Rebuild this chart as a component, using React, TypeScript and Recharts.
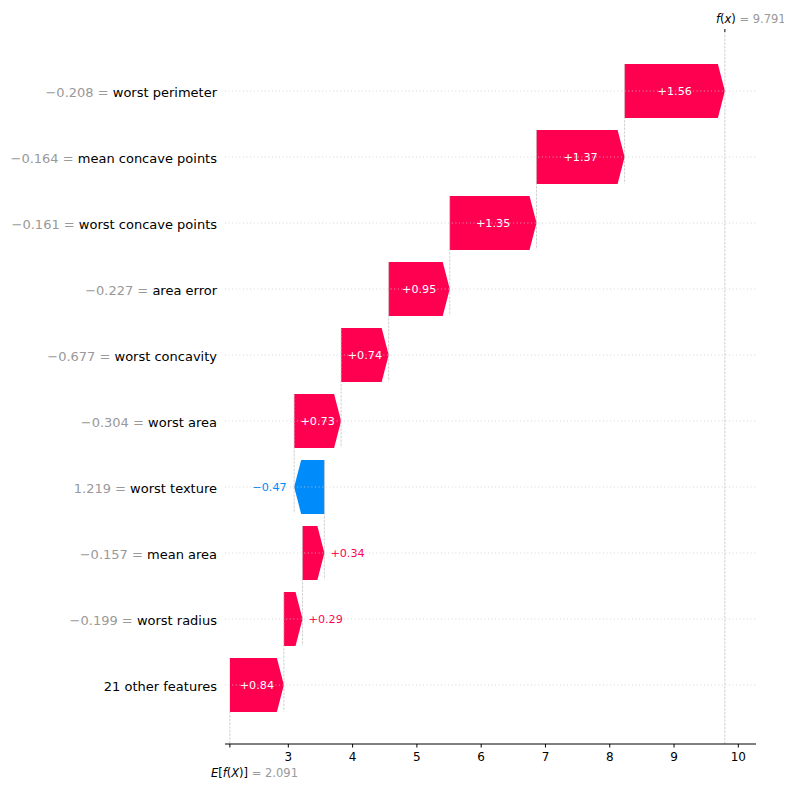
import React from 'react';
import { ComposedChart, Bar, XAxis, YAxis, ReferenceLine } from 'recharts';

// ---- data ----
const featureNames = [
  'worst perimeter',
  'mean concave points',
  'worst concave points',
  'area error',
  'worst concavity',
  'worst area',
  'worst texture',
  'mean area',
  'worst radius',
  '21 other features',
];
const featureValues: (string | null)[] = [
  '−0.208', '−0.164', '−0.161', '−0.227', '−0.677', '−0.304', '1.219', '−0.157', '−0.199', null,
];
const shapValues = [1.56, 1.37, 1.35, 0.95, 0.74, 0.73, -0.47, 0.34, 0.29, 0.84];
const baseValue = 2.091;
const xTickValues = [3, 4, 5, 6, 7, 8, 9, 10];

// ---- style ----
const POS = '#ff0051';
const NEG = '#008bfb';
const FONT = '"DejaVu Sans", sans-serif';
const X_DOMAIN: [number, number] = [2.015, 10.275];
const Y_DOMAIN: [number, number] = [-0.894, 9.894];

type Row = { row: number; start: number; end: number; shap: number; range: [number, number] };
const n = shapValues.length;
const rows: Row[] = new Array(n);
let acc = baseValue;
for (let i = n - 1; i >= 0; i--) {
  const start = acc;
  const end = acc + shapValues[i];
  rows[i] = { row: i, start, end, shap: shapValues[i], range: [Math.min(start, end), Math.max(start, end)] };
  acc = end;
}
const fx = acc;
const rowTicks = rows.map((r) => r.row);

const ArrowShape = (props: any) => {
  const { x, y, width, height, payload } = props;
  const p = payload && payload.shap !== undefined ? payload : rows[props.index];
  const w = Math.abs(width);
  const left = width < 0 ? x + width : x;
  const pos = p.shap >= 0;
  const hl = Math.min(7, w);
  const cy = y + height / 2;
  const pts = pos
    ? [[left, y], [left + w - hl, y], [left + w, cy], [left + w - hl, y + height], [left, y + height]]
    : [[left + w, y], [left + hl, y], [left, cy], [left + hl, y + height], [left + w, y + height]];
  const label = (pos ? '+' : '−') + Math.abs(p.shap).toFixed(2);
  const fs = 11.2;
  const textW = label.length * fs * 0.61;
  const inside = textW < w;
  let tx = left + w / 2;
  let anchor: any = 'middle';
  let fill = '#ffffff';
  if (!inside) {
    if (pos) {
      tx = left + w + 6;
      anchor = 'start';
      fill = POS;
    } else {
      tx = left - 7.5;
      anchor = 'end';
      fill = NEG;
    }
  }
  return (
    <g>
      <polygon points={pts.map((q) => q.join(',')).join(' ')} fill={pos ? POS : NEG} stroke="none" />
      <text x={tx} y={cy + 4.1} textAnchor={anchor} fill={fill} fontSize={fs} fontFamily={FONT}>
        {label}
      </text>
    </g>
  );
};

const YTick = (props: any) => {
  const { x, y, payload } = props;
  const i = payload.value;
  const fv = featureValues[i];
  return (
    <text x={x} y={y + 5.7} textAnchor="end" fontSize={13} fontFamily={FONT} style={{ whiteSpace: 'pre' }}>
      {fv !== null ? <tspan fill="#999999">{fv + ' = '}</tspan> : null}
      <tspan fill="#000000">{featureNames[i]}</tspan>
    </text>
  );
};

const XTick = (props: any) => {
  const { x, y, payload } = props;
  if (Math.abs(payload.value - baseValue) < 1e-6) {
    return (
      <text x={x - 19} y={y + 24.5} textAnchor="start" fontSize={11.5} fontFamily={FONT} style={{ whiteSpace: 'pre' }}>
        <tspan fill="#000" fontStyle="italic">E</tspan>
        <tspan fill="#000">[</tspan>
        <tspan fill="#000" fontStyle="italic">f</tspan>
        <tspan fill="#000">(</tspan>
        <tspan fill="#000" fontStyle="italic">X</tspan>
        <tspan fill="#000">{')]'}</tspan>
        <tspan fill="#999999">{' = ' + baseValue.toFixed(3)}</tspan>
      </text>
    );
  }
  return (
    <text x={x} y={y + 8.5} textAnchor="middle" fontSize={12} fontFamily={FONT} fill="#000">
      {payload.value}
    </text>
  );
};

const TopTick = (props: any) => {
  const { x, y } = props;
  return (
    <text x={x - 9} y={y + 0.3} textAnchor="start" fontSize={11.5} fontFamily={FONT} style={{ whiteSpace: 'pre' }}>
      <tspan fill="#000" fontStyle="italic">f</tspan>
      <tspan fill="#000">(</tspan>
      <tspan fill="#000" fontStyle="italic">x</tspan>
      <tspan fill="#000">)</tspan>
      <tspan fill="#999999">{' = ' + fx.toFixed(3)}</tspan>
    </text>
  );
};

const VLINE = { stroke: '#bbbbbb', strokeWidth: 0.7, strokeDasharray: '2.5 1.2' };
const HLINE = { stroke: '#cccccc', strokeWidth: 0.8, strokeDasharray: '1 2.6' };

export default function App() {
  return (
    <div style={{ width: 784, height: 776, background: '#fff' }}>
      <ComposedChart
        width={784}
        height={776}
        data={rows}
        layout="vertical"
        margin={{ top: 0, right: 36, bottom: 0, left: 0 }}
      >
        <XAxis
          xAxisId={0}
          type="number"
          domain={X_DOMAIN}
          allowDataOverflow
          ticks={[baseValue, ...xTickValues]}
          interval={0}
          height={40}
          stroke="#000"
          axisLine={{ stroke: '#000', strokeWidth: 1 }}
          tickLine={{ stroke: '#000', strokeWidth: 1 }}
          tickSize={3.5}
          tickMargin={5}
          tick={<XTick />}
        />
        <XAxis
          xAxisId="top"
          orientation="top"
          type="number"
          domain={X_DOMAIN}
          allowDataOverflow
          ticks={[fx]}
          interval={0}
          height={24}
          axisLine={false}
          stroke="#000"
          tickLine={{ stroke: '#000', strokeWidth: 1 }}
          tickSize={3}
          tickMargin={6}
          tick={<TopTick />}
        />
        <YAxis
          yAxisId={0}
          type="number"
          dataKey="row"
          domain={Y_DOMAIN}
          allowDataOverflow
          ticks={rowTicks}
          interval={0}
          width={217}
          axisLine={false}
          tickLine={false}
          tickSize={0}
          tickMargin={8}
          tick={<YTick />}
        />
        {rows.map((r) => (
          <ReferenceLine key={'h' + r.row} xAxisId={0} yAxisId={0} y={r.row} {...HLINE} />
        ))}
        <ReferenceLine xAxisId={0} yAxisId={0} x={fx} {...VLINE} />
        <ReferenceLine
          xAxisId={0}
          yAxisId={0}
          segment={[{ x: baseValue, y: n - 1 + 0.4 }, { x: baseValue, y: Y_DOMAIN[1] }]}
          {...VLINE}
        />
        {rows.slice(0, n - 1).map((r) => (
          <ReferenceLine
            key={'c' + r.row}
            xAxisId={0}
            yAxisId={0}
            segment={[{ x: r.start, y: r.row - 0.4 }, { x: r.start, y: r.row + 1 + 0.4 }]}
            {...VLINE}
          />
        ))}
        <Bar
          xAxisId={0}
          yAxisId={0}
          dataKey="range"
          barSize={54}
          isAnimationActive={false}
          shape={(p: any) => <ArrowShape {...p} />}
        />
      </ComposedChart>
    </div>
  );
}
